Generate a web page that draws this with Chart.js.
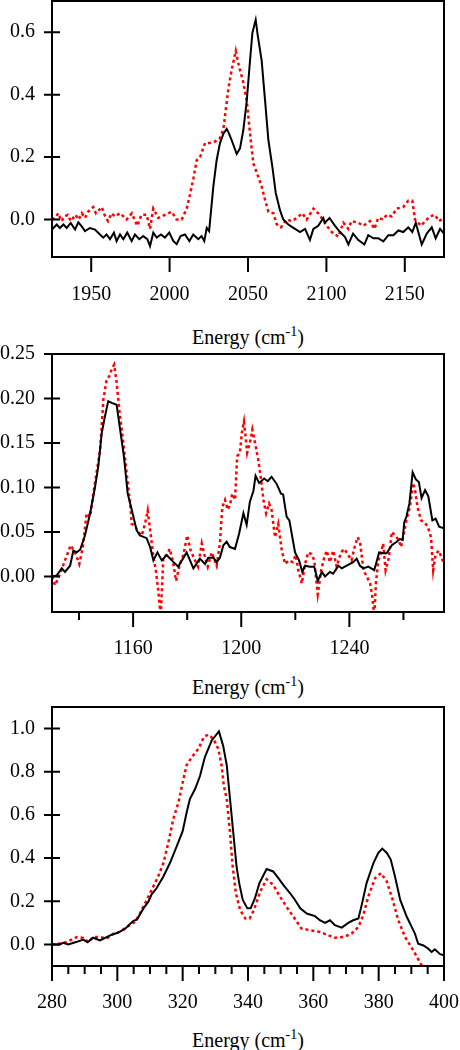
<!DOCTYPE html>
<html>
<head>
<meta charset="utf-8">
<script src="https://cdn.jsdelivr.net/npm/chart.js@4.4.0/dist/chart.umd.min.js"></script>
<style>
  body { margin: 0; background: #fff; }
  #wrap { position: relative; width: 460px; height: 1050px; overflow: hidden; }
  canvas { position: absolute; left: 0; }
  .xtitle {
    position: absolute; left: 52px; width: 392px; text-align: center;
    font-family: "Liberation Serif", "Times New Roman", serif; font-size: 20px;
    line-height: 24px; color: #000;
  }
  .xtitle sup { font-size: 14px; line-height: 0; vertical-align: 8px; }
</style>
</head>
<body>
<div id="wrap">
  <canvas id="c1" width="460" height="320" style="top:0px"></canvas>
  <div class="xtitle" style="top:325px">Energy (cm<sup>-1</sup>)</div>
  <canvas id="c2" width="460" height="320" style="top:340px"></canvas>
  <div class="xtitle" style="top:675px">Energy (cm<sup>-1</sup>)</div>
  <canvas id="c3" width="460" height="320" style="top:695px"></canvas>
  <div class="xtitle" style="top:1028px">Energy (cm<sup>-1</sup>)</div>
</div>
<script>
// ---- panel 1 (C-N stretch region) ----
var p1BlackX = [1925, 1928, 1930, 1932.3, 1934.4, 1936.9, 1939.7, 1941.8, 1944, 1946, 1949.2, 1952.4, 1955.6, 1957.7, 1959.8, 1962, 1964.5, 1966.2, 1968.4, 1970.5, 1973, 1975.8, 1977.9, 1980.7, 1983.2, 1985.8, 1987.5, 1989.6, 1991.8, 1994.5, 1997, 1999.8, 2002.4, 2004.5, 2007, 2009.8, 2012.6, 2015.1, 2018.3, 2020.4, 2022.1, 2023.7, 2025.2, 2027.9, 2030, 2032.1, 2034.3, 2036.4, 2037.5, 2039.6, 2042.8, 2044.9, 2047, 2049.2, 2051.3, 2052.8, 2054.9, 2056.2, 2058.7, 2060.9, 2063, 2065.5, 2067.7, 2070.4, 2072.5, 2075.7, 2080, 2083.2, 2086.4, 2089.5, 2091.7, 2094.8, 2098, 2099, 2102, 2105.5, 2108.7, 2111.9, 2114, 2117, 2120.2, 2124.2, 2126.7, 2130, 2133, 2136.3, 2139.5, 2142.7, 2145.9, 2149, 2152.2, 2154.8, 2157, 2160.8, 2164, 2167.2, 2169.7, 2172.5, 2175];
var p1BlackY = [-0.032, -0.016, -0.027, -0.016, -0.027, -0.011, -0.032, -0.009, -0.022, -0.037, -0.027, -0.032, -0.048, -0.058, -0.048, -0.063, -0.042, -0.069, -0.048, -0.063, -0.042, -0.069, -0.048, -0.063, -0.053, -0.063, -0.085, -0.042, -0.058, -0.048, -0.058, -0.042, -0.069, -0.079, -0.053, -0.048, -0.069, -0.048, -0.063, -0.053, -0.069, -0.027, -0.037, 0.106, 0.19, 0.244, 0.275, 0.29, 0.28, 0.254, 0.21, 0.228, 0.286, 0.38, 0.51, 0.598, 0.64, 0.59, 0.51, 0.38, 0.254, 0.17, 0.085, 0.03, 0.0, -0.016, -0.03, -0.04, -0.03, -0.065, -0.03, -0.02, 0.005, -0.01, 0.005, -0.02, -0.04, -0.056, -0.08, -0.045, -0.065, -0.08, -0.05, -0.06, -0.06, -0.07, -0.05, -0.05, -0.035, -0.04, -0.025, -0.04, -0.01, -0.08, -0.045, -0.025, -0.06, -0.03, -0.045];
var p1RedX = [1925, 1927, 1929, 1931, 1933, 1935, 1937, 1940, 1942, 1944, 1946, 1948, 1951.3, 1953, 1956.7, 1958.5, 1960.7, 1963, 1965, 1968.4, 1970.5, 1972.6, 1975.9, 1979.4, 1982, 1985.4, 1987.5, 1989.6, 1992.8, 1997, 2001.3, 2004.5, 2007.7, 2010.9, 2013, 2015.1, 2017.3, 2019.4, 2022.6, 2025.8, 2029, 2032, 2034.3, 2035.8, 2037.5, 2039.6, 2042.2, 2044.3, 2047, 2049.2, 2051.3, 2053.4, 2055.6, 2058.7, 2060.9, 2063, 2066.2, 2068.3, 2071, 2074.7, 2077.9, 2081, 2084.7, 2087.4, 2091.7, 2094.8, 2097, 2100.2, 2103.4, 2107.6, 2110.8, 2114, 2116, 2120.3, 2123.5, 2127.8, 2130.6, 2133, 2136.3, 2138.4, 2141.6, 2144.8, 2149, 2152.2, 2154.8, 2156.5, 2160.4, 2163, 2166, 2169.2, 2171.8, 2175];
var p1RedY = [0.0, 0.005, 0.02, -0.005, 0.01, 0.015, -0.005, 0.015, 0.0, 0.02, 0.005, 0.025, 0.04, 0.02, 0.04, 0.015, -0.005, 0.02, 0.01, 0.02, 0.01, 0.0, 0.02, -0.02, 0.015, 0.015, -0.03, 0.035, 0.005, 0.015, 0.025, 0.0, 0.0, 0.035, 0.08, 0.13, 0.19, 0.2, 0.245, 0.245, 0.25, 0.26, 0.29, 0.35, 0.42, 0.48, 0.54, 0.49, 0.44, 0.38, 0.275, 0.18, 0.15, 0.106, 0.063, 0.025, 0.02, -0.015, -0.025, 0.0, -0.005, 0.005, 0.02, 0.0, 0.035, 0.02, 0.005, -0.02, -0.04, -0.055, -0.01, -0.03, -0.005, -0.01, -0.02, -0.005, -0.03, 0.005, 0.0, 0.015, 0.01, 0.035, 0.04, 0.06, 0.06, 0.0, -0.02, -0.005, 0.01, 0.015, -0.005, 0.005];
var p1XLabels = [1950, 2000, 2050, 2100, 2150];
var p1YLabels = [0, 0.2, 0.4, 0.6];

// ---- panel 2 ----
var p2BlackX = [1130, 1131.7, 1133.6, 1134.8, 1136.7, 1137.9, 1139.1, 1140.4, 1142.2, 1144.1, 1145.9, 1147.1, 1148.4, 1149.6, 1150.8, 1152.1, 1153.9, 1155.2, 1156.6, 1158, 1159.5, 1161.3, 1162.5, 1165, 1166.3, 1167.5, 1169, 1170.6, 1172.4, 1174.3, 1176.7, 1179.8, 1182.3, 1184.7, 1186.6, 1187.8, 1189.7, 1190.9, 1192.1, 1193.4, 1194.6, 1195.8, 1197.7, 1199.2, 1200.8, 1202, 1203.2, 1204.5, 1205.3, 1206.6, 1208.5, 1209.8, 1211.2, 1213.1, 1214.7, 1215.5, 1216.8, 1217.8, 1218.9, 1219.9, 1221.4, 1222.6, 1223.6, 1225.4, 1227, 1228.3, 1229.8, 1231, 1232.8, 1234, 1235.9, 1237.2, 1239, 1241.4, 1242.7, 1243.9, 1245.2, 1247, 1249.2, 1251, 1252.6, 1253.8, 1255.7, 1257.5, 1258.7, 1259.7, 1260.3, 1261.1, 1262.2, 1263.4, 1264.6, 1265.7, 1266.7, 1268, 1269.2, 1270.7, 1271.9, 1273.2, 1275];
var p2BlackY = [0.0, 0.001, 0.009, 0.005, 0.012, 0.029, 0.027, 0.03, 0.046, 0.071, 0.1, 0.123, 0.161, 0.18, 0.197, 0.195, 0.193, 0.165, 0.135, 0.093, 0.075, 0.052, 0.046, 0.043, 0.033, 0.018, 0.027, 0.018, 0.024, 0.018, 0.011, 0.027, 0.009, 0.02, 0.014, 0.021, 0.021, 0.016, 0.021, 0.035, 0.039, 0.033, 0.031, 0.048, 0.071, 0.058, 0.084, 0.096, 0.113, 0.105, 0.11, 0.107, 0.112, 0.104, 0.093, 0.092, 0.067, 0.063, 0.044, 0.027, 0.018, 0.005, 0.012, 0.011, 0.011, -0.005, 0.005, 0.0, 0.005, 0.003, 0.012, 0.009, 0.012, 0.016, 0.02, 0.012, 0.009, 0.011, 0.007, 0.027, 0.026, 0.026, 0.035, 0.039, 0.042, 0.041, 0.061, 0.067, 0.082, 0.117, 0.109, 0.106, 0.088, 0.097, 0.09, 0.063, 0.065, 0.056, 0.054];
var p2RedX = [1130, 1131.1, 1133, 1134.8, 1136.9, 1138.5, 1140.1, 1141.4, 1142.8, 1144.1, 1145.3, 1146.5, 1147.8, 1149, 1150.2, 1151.2, 1152.1, 1153, 1153.9, 1154.9, 1156.4, 1157.6, 1158.9, 1159.5, 1160.7, 1161.9, 1163.2, 1164.4, 1165.4, 1166.3, 1167.5, 1168.5, 1169.3, 1170.2, 1171.2, 1172.4, 1173.6, 1174.9, 1175.9, 1177.3, 1178.6, 1180, 1181.3, 1182.9, 1184, 1185.4, 1186.4, 1187.6, 1189.1, 1190.9, 1192.1, 1193, 1194, 1195, 1195.8, 1196.7, 1197.7, 1198.5, 1199.5, 1200.2, 1201, 1201.6, 1202.2, 1203.2, 1204.1, 1205.1, 1206.3, 1207.2, 1208.2, 1209.2, 1210.3, 1211.2, 1212.5, 1213.7, 1215, 1216.2, 1217.6, 1219, 1220.2, 1221.1, 1222.4, 1223.6, 1224.8, 1226, 1227, 1228.3, 1229.6, 1230.6, 1231.6, 1232.8, 1234, 1235.3, 1236.9, 1238.1, 1239.6, 1240.8, 1242.1, 1243.1, 1244, 1245.2, 1246.4, 1247.7, 1248.5, 1249.2, 1249.8, 1250.7, 1251.6, 1252.5, 1253.4, 1254.6, 1255.7, 1256.9, 1258.2, 1259.1, 1260, 1261.2, 1262.4, 1263.6, 1264.3, 1265.2, 1266.5, 1267.7, 1269, 1270.2, 1271, 1271.9, 1273.1, 1275];
var p2RedY = [0.0, -0.01, 0.003, 0.018, 0.035, 0.027, 0.014, 0.033, 0.071, 0.067, 0.093, 0.117, 0.142, 0.199, 0.221, 0.225, 0.233, 0.238, 0.218, 0.187, 0.15, 0.116, 0.082, 0.059, 0.057, 0.05, 0.046, 0.059, 0.074, 0.052, 0.022, 0.005, -0.016, -0.045, 0.022, 0.024, 0.031, 0.014, -0.005, 0.014, 0.024, 0.046, 0.029, 0.018, 0.011, 0.037, 0.024, 0.011, 0.027, 0.012, 0.037, 0.078, 0.086, 0.075, 0.08, 0.093, 0.086, 0.135, 0.139, 0.161, 0.174, 0.157, 0.139, 0.15, 0.165, 0.15, 0.131, 0.112, 0.086, 0.071, 0.082, 0.075, 0.044, 0.059, 0.029, 0.014, 0.018, 0.016, 0.024, 0.007, -0.008, 0.014, 0.027, 0.025, 0.018, -0.02, 0.007, 0.02, 0.029, 0.016, 0.029, 0.011, 0.027, 0.031, 0.024, 0.018, 0.035, 0.044, 0.037, 0.007, 0.0, -0.008, -0.023, -0.045, -0.008, 0.018, 0.025, 0.037, 0.007, 0.021, 0.05, 0.046, 0.041, 0.033, 0.046, 0.065, 0.078, 0.105, 0.097, 0.078, 0.063, 0.061, 0.056, 0.044, 0.007, 0.025, 0.029, 0.014];
var p2XLabels = [1160, 1200, 1240];
var p2XMinor = [1140, 1180, 1220, 1260];
var p2YLabels = [0, 0.05, 0.1, 0.15, 0.2, 0.25];

// ---- panel 3 ----
var p3BlackX = [280, 282.4, 283.4, 285, 287.6, 289.6, 290.9, 292.6, 294.7, 297.8, 300.3, 302.4, 304.9, 306, 308, 309.5, 310.5, 312, 314.1, 316.1, 318.2, 320, 321.2, 322.2, 323.8, 325.3, 326.8, 328.9, 331.1, 332.4, 333.5, 334.5, 335.5, 336.5, 337.3, 338.4, 339.8, 340.8, 342.1, 343.5, 345.7, 347.7, 349.3, 350.8, 352.9, 354.4, 356, 358, 360.5, 362, 363.6, 365.1, 366.6, 368.7, 370.7, 372.2, 373.8, 374.8, 376.3, 378.4, 379.9, 381.1, 382.5, 383.7, 385, 386.6, 388.6, 390.1, 391.1, 392.1, 393.7, 395.2, 396.2, 397.2, 398.8, 400];
var p3BlackY = [0.0, 0.0, 0.007, 0.0, 0.012, 0.022, 0.01, 0.031, 0.019, 0.042, 0.055, 0.073, 0.109, 0.115, 0.167, 0.198, 0.232, 0.26, 0.315, 0.377, 0.455, 0.525, 0.61, 0.673, 0.72, 0.78, 0.868, 0.945, 0.987, 0.92, 0.83, 0.673, 0.517, 0.361, 0.284, 0.206, 0.167, 0.167, 0.213, 0.284, 0.349, 0.338, 0.307, 0.276, 0.237, 0.206, 0.167, 0.143, 0.131, 0.112, 0.1, 0.112, 0.089, 0.078, 0.1, 0.112, 0.12, 0.182, 0.284, 0.377, 0.424, 0.444, 0.424, 0.393, 0.315, 0.206, 0.128, 0.081, 0.05, 0.003, -0.005, -0.02, -0.035, -0.023, -0.045, -0.05];
var p3RedX = [280, 283.4, 285.5, 287.6, 289.6, 291.1, 292.6, 294.7, 296.7, 298.8, 300.8, 302.9, 305.4, 306.9, 309, 311, 312.5, 314.1, 315.6, 317.1, 318.7, 320, 321.2, 322.8, 324.8, 326.5, 327.8, 329.4, 330.9, 331.9, 332.6, 333.5, 334.5, 335.3, 336.3, 337.6, 339.2, 340.5, 341.8, 343.7, 345.7, 347.7, 349.8, 351.8, 353.9, 356.4, 359, 362, 364.6, 366.6, 369.2, 371.7, 373.8, 375.3, 376.8, 378.9, 380.7, 382.5, 384.3, 386, 388.1, 390.6, 393.2, 395];
var p3RedY = [0.0, 0.005, 0.019, 0.034, 0.03, 0.011, 0.034, 0.034, 0.027, 0.05, 0.058, 0.081, 0.104, 0.143, 0.206, 0.268, 0.315, 0.377, 0.47, 0.58, 0.657, 0.75, 0.83, 0.868, 0.906, 0.961, 0.972, 0.953, 0.906, 0.83, 0.735, 0.673, 0.517, 0.361, 0.237, 0.159, 0.12, 0.12, 0.159, 0.244, 0.302, 0.276, 0.221, 0.174, 0.128, 0.073, 0.066, 0.058, 0.042, 0.031, 0.034, 0.05, 0.081, 0.136, 0.221, 0.307, 0.33, 0.291, 0.206, 0.112, 0.034, -0.028, -0.098, -0.14];
var p3XLabels = [280, 300, 320, 340, 360, 380, 400];
var p3XMinor = [285, 290, 295, 305, 310, 315, 325, 330, 335, 345, 350, 355, 365, 370, 375, 385, 390, 395];
var p3YLabels = [0, 0.2, 0.4, 0.6, 0.8, 1.0];

var serif = '"Liberation Serif", "Times New Roman", serif';

// frame box + tick marks (major crosses the y axis, x ticks hang below)
var frameTicks = {
  id: 'frameTicks',
  afterDraw: function (chart, args, o) {
    var ctx = chart.ctx, a = chart.chartArea;
    var xs = chart.scales.x, ys = chart.scales.y;
    ctx.save();
    ctx.strokeStyle = '#000';
    ctx.lineWidth = 2;
    ctx.strokeRect(a.left, a.top, a.right - a.left, a.bottom - a.top);
    ctx.beginPath();
    o.xMajor.forEach(function (v) {
      var px = xs.getPixelForValue(v);
      ctx.moveTo(px, a.bottom); ctx.lineTo(px, a.bottom + 15);
    });
    o.xMinor.forEach(function (v) {
      var px = xs.getPixelForValue(v);
      ctx.moveTo(px, a.bottom); ctx.lineTo(px, a.bottom + 8);
    });
    o.y.forEach(function (v) {
      var py = ys.getPixelForValue(v);
      ctx.moveTo(a.left - 8, py); ctx.lineTo(a.left + 8, py);
    });
    ctx.stroke();
    ctx.restore();
  }
};

function pts(xs, ys) {
  return xs.map(function (x, i) { return { x: x, y: ys[i] }; });
}

function noPad(s) {
  s.paddingTop = 0; s.paddingBottom = 0; s.paddingLeft = 0; s.paddingRight = 0;
}

function makePanel(id, p) {
  new Chart(document.getElementById(id), {
    type: 'line',
    data: {
      datasets: [
        { data: pts(p.bx, p.by), borderColor: '#000', borderWidth: 2, pointRadius: 0, clip: 0 },
        { data: pts(p.rx, p.ry), borderColor: '#ff0000', borderWidth: 2.5, borderDash: [3, 3], pointRadius: 0, clip: 0 }
      ]
    },
    options: {
      responsive: false,
      animation: false,
      layout: { padding: { top: p.top, right: 16, left: 0, bottom: 0 } },
      plugins: {
        legend: { display: false },
        tooltip: { enabled: false },
        frameTicks: { xMajor: p.xLab, xMinor: p.xMinor, y: p.yLab }
      },
      scales: {
        x: {
          type: 'linear', min: p.xMin, max: p.xMax,
          grid: { display: false, drawTicks: false },
          border: { display: false },
          afterBuildTicks: function (s) { s.ticks = p.xLab.map(function (v) { return { value: v }; }); },
          afterFit: function (s) { s.height = p.xh; noPad(s); },
          ticks: {
            autoSkip: false, maxRotation: 0, padding: p.xpad, color: '#000',
            font: { family: serif, size: 20 },
            callback: function (v) { return String(v); }
          }
        },
        y: {
          min: p.yMin, max: p.yMax,
          grid: { display: false, drawTicks: false },
          border: { display: false },
          afterBuildTicks: function (s) { s.ticks = p.yLab.map(function (v) { return { value: v }; }); },
          afterFit: function (s) { s.width = 52; noPad(s); },
          ticks: {
            autoSkip: false, padding: 17, color: '#000',
            font: { family: serif, size: 20 },
            callback: function (v) { return Number(v).toFixed(p.dec); }
          }
        }
      }
    },
    plugins: [frameTicks]
  });
}

makePanel('c1', {
  bx: p1BlackX, by: p1BlackY, rx: p1RedX, ry: p1RedY,
  xMin: 1925, xMax: 2175, yMin: -0.12, yMax: 0.70,
  xLab: p1XLabels, xMinor: [], yLab: p1YLabels, dec: 1,
  top: 1, xh: 63, xpad: 26
});
makePanel('c2', {
  bx: p2BlackX, by: p2BlackY, rx: p2RedX, ry: p2RedY,
  xMin: 1130, xMax: 1275, yMin: -0.04, yMax: 0.25,
  xLab: p2XLabels, xMinor: p2XMinor, yLab: p2YLabels, dec: 2,
  top: 14, xh: 48, xpad: 25
});
makePanel('c3', {
  bx: p3BlackX, by: p3BlackY, rx: p3RedX, ry: p3RedY,
  xMin: 280, xMax: 400, yMin: -0.1, yMax: 1.1,
  xLab: p3XLabels, xMinor: p3XMinor, yLab: p3YLabels, dec: 1,
  top: 12, xh: 49, xpad: 25
});
</script>
</body>
</html>
